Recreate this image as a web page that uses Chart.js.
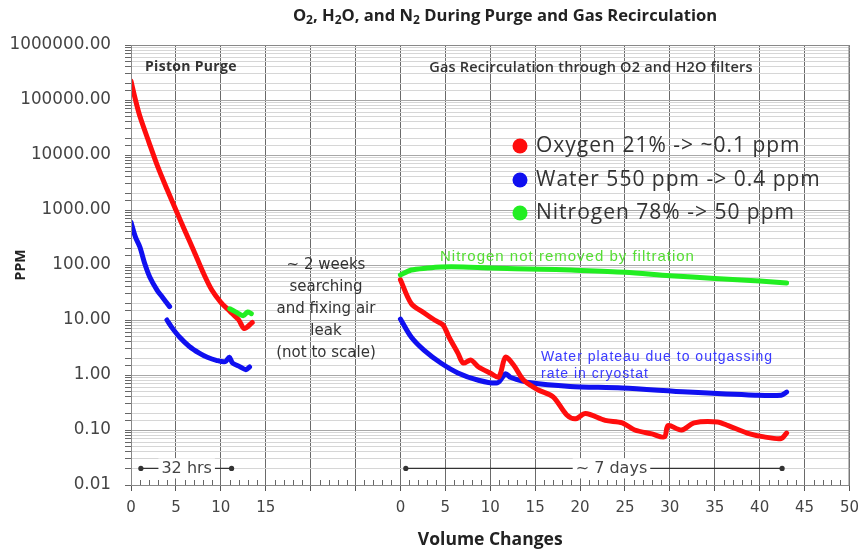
<!DOCTYPE html>
<html>
<head>
<meta charset="utf-8">
<script src="https://cdn.jsdelivr.net/npm/chart.js@4.4.1/dist/chart.umd.min.js"></script>
<style>
  html, body { margin: 0; padding: 0; background: #fff; }
</style>
</head>
<body>
<canvas id="chart" width="867" height="554"></canvas>
<script>
// the recirculation run is drawn on the same axis, shifted right by this many volume changes
const RECIRC_OFFSET = 30;

// piston purge (volume changes, ppm)
const o2PurgeX = [0, 0.5, 1, 2, 3, 4, 5, 6, 7, 8, 9, 10, 11, 12, 12.6, 13.5];
const o2PurgeY = [220000, 100000, 50000, 17000, 6000, 2400, 1000, 420, 180, 75, 35, 21, 14.5, 10, 7, 9];
const h2oPurgeX1 = [0, 0.5, 1, 1.5, 2.1, 2.9, 3.5, 4.3];
const h2oPurgeY1 = [600, 320, 210, 110, 60, 35, 26, 17.5];
const h2oPurgeX2 = [4.0, 4.5, 5.4, 6.5, 7.6, 8.5, 9.5, 10.5, 10.95, 11.3, 12, 12.8, 13.2];
const h2oPurgeY2 = [10, 7.5, 4.9, 3.3, 2.5, 2.1, 1.85, 1.75, 2.1, 1.65, 1.45, 1.25, 1.4];
const n2PurgeX = [11.0, 11.5, 12.0, 12.5, 13.0, 13.4];
const n2PurgeY = [16, 14.5, 13, 12, 14, 13];

// gas recirculation (volume changes from restart, ppm)
const o2RecircX = [0, 1.2, 2.65, 3.8, 4.75, 5.4, 6.4, 7.0, 7.85, 8.7, 10.0, 10.95, 11.7, 12.6, 13.7, 15.3, 17.0, 18.5, 19.5, 20.6, 22.8, 24.7, 26.1, 28, 29.4, 29.8, 31.3, 32.7, 35.3, 36.5, 38.6, 40.5, 42.4, 43];
const o2RecircY = [54, 20, 13.4, 10, 8.1, 4.9, 2.5, 1.65, 1.87, 1.4, 1.09, 0.92, 2.1, 1.52, 0.81, 0.54, 0.40, 0.19, 0.16, 0.2, 0.15, 0.135, 0.1, 0.085, 0.075, 0.12, 0.1, 0.135, 0.14, 0.12, 0.088, 0.075, 0.07, 0.088];
const h2oRecircX = [0, 1.2, 2.65, 4.5, 6.4, 8.6, 10.8, 11.7, 12.3, 14.5, 18.9, 24.7, 32, 39.5, 42.4, 43];
const h2oRecircY = [10.4, 4.9, 2.8, 1.65, 1.09, 0.81, 0.72, 1.05, 0.9, 0.72, 0.62, 0.58, 0.49, 0.43, 0.43, 0.49];
const n2RecircX = [0, 1.2, 3, 4.5, 7, 10, 15.6, 19, 25, 30, 35, 40, 43];
const n2RecircY = [66, 81, 88, 92, 92, 88, 84, 81, 74, 64, 57, 51, 47];

const seriesNames = ['Oxygen', 'Water', 'Nitrogen'];
const seriesColors = ['#ff0d0d', '#1010f0', '#22ee22'];
const seriesOrder = [1, 2, 0]; // nitrogen on top, water underneath
const legendLabels = ['Oxygen 21% -> ~0.1 ppm', 'Water 550 ppm -> 0.4 ppm', 'Nitrogen 78% -> 50 ppm'];

const pts = (xs, ys, off = 0) => xs.map((x, i) => ({ x: x + off, y: ys[i] }));
const gap = x => ({ x, y: null });
const isDecade = v => { const l = Math.log10(v); return Math.abs(l - Math.round(l)) < 1e-6; };

const seriesData = [
  [...pts(o2PurgeX, o2PurgeY), gap(14), ...pts(o2RecircX, o2RecircY, RECIRC_OFFSET)],
  [...pts(h2oPurgeX1, h2oPurgeY1), gap(4.3), ...pts(h2oPurgeX2, h2oPurgeY2), gap(14), ...pts(h2oRecircX, h2oRecircY, RECIRC_OFFSET)],
  [...pts(n2PurgeX, n2PurgeY), gap(14), ...pts(n2RecircX, n2RecircY, RECIRC_OFFSET)],
];

const datasets = seriesNames.map((name, i) => ({
  label: name,
  data: seriesData[i],
  order: seriesOrder[i],
  borderColor: seriesColors[i],
  backgroundColor: seriesColors[i],
  borderWidth: 5,
  pointRadius: 0,
  tension: 0.3,
  spanGaps: false,
  borderCapStyle: 'round',
  borderJoinStyle: 'round',
}));

// 文字和注释
function richText(ctx, parts, cx, y, size) {
  ctx.save();
  ctx.textBaseline = 'middle';
  ctx.textAlign = 'left';
  const fontOf = sub => `bold ${sub ? Math.round(size * 0.7) : size}px "Open Sans"`;
  let w = 0;
  parts.forEach(([t, sub]) => { ctx.font = fontOf(sub); w += ctx.measureText(t).width; });
  let x = cx - w / 2;
  parts.forEach(([t, sub]) => {
    ctx.font = fontOf(sub);
    ctx.fillText(t, x, sub ? y + size * 0.3 : y);
    x += ctx.measureText(t).width;
  });
  ctx.restore();
}

function spanArrow(ctx, x1, x2, y, label, lx) {
  ctx.save();
  ctx.strokeStyle = '#333';
  ctx.fillStyle = '#333';
  ctx.lineWidth = 1.2;
  ctx.beginPath(); ctx.moveTo(x1, y); ctx.lineTo(x2, y); ctx.stroke();
  [x1, x2].forEach(x => { ctx.beginPath(); ctx.arc(x, y, 2.6, 0, Math.PI * 2); ctx.fill(); });
  ctx.font = '16px "DejaVu Sans"';
  const w = ctx.measureText(label).width;
  ctx.fillStyle = '#fff';
  ctx.fillRect(lx - w / 2 - 3, y - 10, w + 6, 20);
  ctx.fillStyle = '#444';
  ctx.textAlign = 'center';
  ctx.textBaseline = 'middle';
  ctx.fillText(label, lx, y);
  ctx.restore();
}

const decorations = {
  id: 'decorations',
  beforeDraw(chart) {
    const c = chart.ctx;
    c.save();
    c.fillStyle = '#fff';
    c.fillRect(0, 0, chart.width, chart.height);
    c.restore();
  },
  afterDatasetsDraw(chart) {
    const c = chart.ctx;
    const a = chart.chartArea;
    const xs = chart.scales.x, ys = chart.scales.y;

    c.save();
    // plot frame
    c.strokeStyle = '#888';
    c.lineWidth = 1;
    c.strokeRect(a.left + 0.5, a.top + 0.5, a.right - a.left - 1, a.bottom - a.top);

    // minor x ticks, inside the plot
    c.strokeStyle = '#666';
    for (let v = xs.min; v <= xs.max; v++) {
      if (v % 5 === 0) continue;
      const px = Math.round(xs.getPixelForValue(v)) + 0.5;
      c.beginPath(); c.moveTo(px, a.bottom); c.lineTo(px, a.bottom - 5); c.stroke();
    }

    // section headings
    c.fillStyle = '#333';
    c.textBaseline = 'middle';
    c.font = 'bold 14px "Open Sans"';
    c.letterSpacing = '0.3px';
    c.fillText('Piston Purge', a.left + 14, 67);
    c.font = '600 14.5px "Open Sans"';
    c.letterSpacing = '0.2px';
    c.textAlign = 'center';
    c.fillText('Gas Recirculation through O2 and H2O filters', 591, 68);
    c.letterSpacing = '0px';

    // gap note
    c.font = '15px "DejaVu Sans"';
    c.fillStyle = '#333';
    ['~ 2 weeks', 'searching', 'and fixing air', 'leak', '(not to scale)']
      .forEach((t, i) => c.fillText(t, 326, 265 + i * 22));

    // series notes
    c.textAlign = 'left';
    c.font = '15px "Liberation Sans"';
    c.letterSpacing = '1px';
    c.fillStyle = '#55dd33';
    c.fillText('Nitrogen not removed by filtration', 440, 257);
    c.fillStyle = '#3a3aff';
    c.font = '14px "Liberation Sans"';
    c.fillText('Water plateau due to outgassing', 541, 357);
    c.fillText('rate in cryostat', 541, 374);

    // legend
    c.font = '21px "Open Sans"';
    c.letterSpacing = '1px';
    legendLabels.forEach((t, i) => {
      const y = [146, 180, 213][i];
      c.fillStyle = seriesColors[i];
      c.beginPath(); c.arc(520, y, 7.5, 0, Math.PI * 2); c.fill();
      c.fillStyle = '#333';
      c.fillText(t, 536, y);
    });
    c.letterSpacing = '0px';
    c.restore();

    // time spans
    const yArrow = ys.getPixelForValue(0.02);
    spanArrow(c, xs.getPixelForValue(1.1), xs.getPixelForValue(11.2), yArrow, '32 hrs', xs.getPixelForValue(6.2));
    spanArrow(c, xs.getPixelForValue(RECIRC_OFFSET + 0.6), xs.getPixelForValue(RECIRC_OFFSET + 42.5), yArrow, '~ 7 days',
      xs.getPixelForValue(RECIRC_OFFSET + 23.5));

    // title
    c.save();
    c.fillStyle = '#222';
    richText(c, [['O', 0], ['2', 1], [', H', 0], ['2', 1], ['O, and N', 0], ['2', 1], [' During Purge and Gas Recirculation', 0]], 505, 16, 16.6);
    c.restore();
  }
};

Chart.defaults.font.family = '"DejaVu Sans"';
Chart.defaults.color = '#444';

new Chart(document.getElementById('chart').getContext('2d'), {
  type: 'line',
  data: { datasets },
  options: {
    responsive: false,
    animation: false,
    layout: { padding: { top: 45, right: 11, left: 0, bottom: 0 } },
    plugins: {
      legend: { display: false },
      title: { display: false },
      tooltip: { enabled: false }
    },
    scales: {
      x: {
        type: 'linear',
        min: 0,
        max: 80,
        afterFit: s => { s.height = 69; },
        ticks: {
          stepSize: 5,
          autoSkip: false,
          maxRotation: 0,
          padding: 8,
          color: '#444',
          font: { size: 15 },
          callback: v => v <= 15 ? String(v) : (v >= RECIRC_OFFSET ? String(v - RECIRC_OFFSET) : '')
        },
        grid: {
          color: ctx => ctx.tick && ctx.tick.value === 0 ? 'rgba(0,0,0,0)' : '#6a6a6a',
          tickColor: '#555',
          tickLength: 6
        },
        border: { color: '#666' },
        title: {
          display: true,
          text: 'Volume Changes',
          color: '#222',
          font: { family: '"Open Sans"', weight: 'bold', size: 17.5 },
          padding: { top: 0, bottom: 3 }
        }
      },
      y: {
        type: 'logarithmic',
        min: 0.01,
        max: 1000000,
        afterFit: s => { s.width = 131; },
        ticks: {
          autoSkip: false,
          padding: 14,
          color: '#444',
          font: { size: 16.8 },
          callback: v => isDecade(v) ? Number(v).toFixed(2) : ''
        },
        grid: {
          color: ctx => ctx.tick && isDecade(ctx.tick.value) ? '#a8a8a8' : '#d6d6d6',
          tickColor: '#666',
          tickLength: 6
        },
        border: { color: '#666' },
        title: {
          display: true,
          text: 'PPM',
          color: '#222',
          font: { family: '"Open Sans"', weight: 'bold', size: 14 },
          padding: { top: 13, bottom: 0 }
        }
      }
    }
  },
  plugins: [decorations]
});
</script>
</body>
</html>
